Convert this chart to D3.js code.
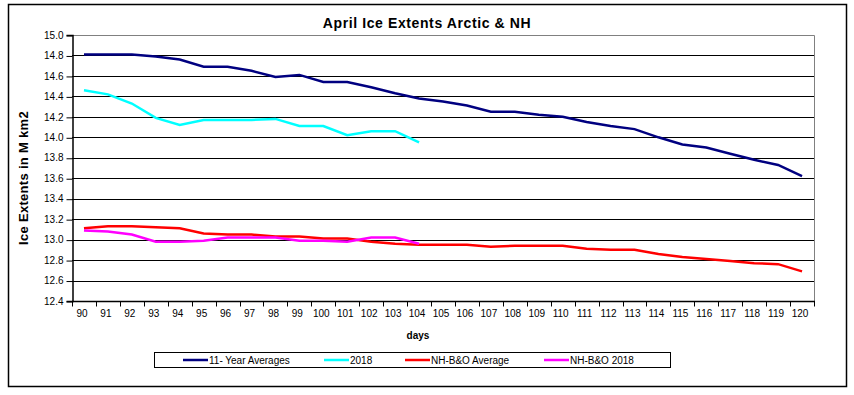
<!DOCTYPE html>
<html lang="en">
<head>
<meta charset="UTF-8">
<title>April Ice Extents Arctic & NH</title>
<script src="https://cdn.jsdelivr.net/npm/d3@7"></script>
<style>
    body { margin: 0; background: #fff; }
    svg { font-family: "Liberation Sans", Arial, sans-serif; }
</style>
</head>
<body>
<div id="chart"></div>
<script>
// days of April (day of year)
var days = d3.range(90, 121);

var avg11 = [14.81, 14.81, 14.81, 14.79, 14.76, 14.69, 14.69, 14.65, 14.59, 14.61,
             14.54, 14.54, 14.49, 14.43, 14.38, 14.35, 14.31, 14.25, 14.25, 14.22,
             14.20, 14.15, 14.11, 14.08, 14.00, 13.93, 13.90, 13.84, 13.78, 13.73, 13.62];
var y2018 = [14.46, 14.42, 14.33, 14.19, 14.12, 14.17, 14.17, 14.17, 14.18, 14.11,
             14.11, 14.02, 14.06, 14.06, 13.95];
var nhAvg = [13.11, 13.13, 13.13, 13.12, 13.11, 13.06, 13.05, 13.05, 13.03, 13.03,
             13.01, 13.01, 12.98, 12.96, 12.95, 12.95, 12.95, 12.93, 12.94, 12.94,
             12.94, 12.91, 12.90, 12.90, 12.86, 12.83, 12.81, 12.79, 12.77, 12.76, 12.69];
var nh2018 = [13.09, 13.08, 13.05, 12.98, 12.98, 12.99, 13.02, 13.02, 13.02, 12.99,
              12.99, 12.98, 13.02, 13.02, 12.96];
var yTicks = d3.range(12.4, 15.0001, 0.2);

var series = [
    {name: '11- Year Averages', values: avg11, color: '#000080'},
    {name: '2018', values: y2018, color: '#00ffff'},
    {name: 'NH-B&O Average', values: nhAvg, color: '#ff0000'},
    {name: 'NH-B&O 2018', values: nh2018, color: '#ff00ff'}
];

var width = 854, height = 395;
var plot = {left: 72, right: 814, top: 35, bottom: 301};

var svg = d3.select('#chart').append('svg').attr('width', width).attr('height', height);

// outer frame
svg.append('rect').attr('x', 8.5).attr('y', 4.5).attr('width', 838).attr('height', 382)
    .attr('fill', 'none').attr('stroke', '#000').attr('stroke-width', 1.5);

var x = d3.scaleBand().domain(days).range([plot.left, plot.right]);
var y = d3.scaleLinear().domain([12.4, 15.0]).range([plot.bottom, plot.top]);

// gridlines
svg.append('g').selectAll('line').data(yTicks.slice(1, -1)).enter().append('line')
    .attr('x1', plot.left).attr('x2', plot.right)
    .attr('y1', function(d){ return Math.round(y(d)) + 0.5; })
    .attr('y2', function(d){ return Math.round(y(d)) + 0.5; })
    .attr('stroke', '#000').attr('stroke-width', 1);

// plot area top & right border (grey)
svg.append('path')
    .attr('d', 'M' + plot.left + ',' + (plot.top + 0.5) + 'H' + (plot.right + 0.5) + 'V' + plot.bottom)
    .attr('fill', 'none').attr('stroke', '#808080').attr('stroke-width', 1);

// y axis
var yAxis = svg.append('g').attr('transform', 'translate(' + (plot.left + 0.5) + ',0)')
    .call(d3.axisLeft(y).tickValues(yTicks).tickFormat(d3.format('.1f')).tickSize(6).tickPadding(3));
yAxis.select('.domain').attr('stroke', '#000').attr('stroke-width', 1.5);
yAxis.selectAll('.tick line').attr('stroke', '#000').attr('transform', 'translate(0,0.5)');
yAxis.selectAll('text').attr('font-size', 10).attr('fill', '#000')
    .attr('font-family', '"Liberation Sans", Arial, sans-serif');

// x axis (category ticks between labels)
var xAxis = svg.append('g').attr('transform', 'translate(0,' + (plot.bottom + 0.5) + ')');
xAxis.append('line').attr('x1', plot.left).attr('x2', plot.right + 1)
    .attr('stroke', '#000').attr('stroke-width', 1.5);
xAxis.selectAll('.tk').data(days.concat([121])).enter().append('line')
    .attr('x1', function(d){ return d === 121 ? plot.right + 0.5 : Math.round(x(d)) + 0.5; })
    .attr('x2', function(d){ return d === 121 ? plot.right + 0.5 : Math.round(x(d)) + 0.5; })
    .attr('y1', 0).attr('y2', 5).attr('stroke', '#000');
xAxis.selectAll('text').data(days).enter().append('text')
    .attr('x', function(d){ return x(d) + x.bandwidth() / 2 - 2; })
    .attr('y', 15).attr('text-anchor', 'middle').attr('font-size', 10)
    .text(function(d){ return d; });

// series lines
var line = d3.line()
    .x(function(d, i){ return x(days[i]) + x.bandwidth() / 2; })
    .y(function(d){ return y(d); });

svg.append('g').selectAll('path').data(series).enter().append('path')
    .attr('d', function(s){ return line(s.values); })
    .attr('fill', 'none')
    .attr('stroke', function(s){ return s.color; })
    .attr('stroke-width', 2.5);

// titles
svg.append('text').attr('x', 427).attr('y', 28).attr('text-anchor', 'middle')
    .attr('font-size', 14).attr('letter-spacing', 0.6).attr('font-weight', 'bold')
    .text('April Ice Extents Arctic & NH');
svg.append('text').attr('x', 418).attr('y', 339).attr('text-anchor', 'middle')
    .attr('font-size', 10).attr('font-weight', 'bold').text('days');
svg.append('text').attr('transform', 'translate(28,178) rotate(-90)').attr('text-anchor', 'middle')
    .attr('font-size', 13).attr('letter-spacing', 0.3).attr('font-weight', 'bold')
    .text('Ice Extents in M km2');

// legend
var legend = svg.append('g');
legend.append('rect').attr('x', 154.5).attr('y', 352.5).attr('width', 516).attr('height', 15)
    .attr('fill', '#fff').attr('stroke', '#000').attr('stroke-width', 1);
var legX = [183, 324, 405, 544];
var items = legend.selectAll('.item').data(series).enter().append('g')
    .attr('transform', function(d, i){ return 'translate(' + legX[i] + ',360)'; });
items.append('line').attr('x1', 0).attr('x2', 25).attr('y1', 0).attr('y2', 0)
    .attr('stroke', function(d){ return d.color; }).attr('stroke-width', 2.5);
items.append('text').attr('x', 26).attr('y', 4).attr('font-size', 10)
    .text(function(d){ return d.name; });
</script>
</body>
</html>
